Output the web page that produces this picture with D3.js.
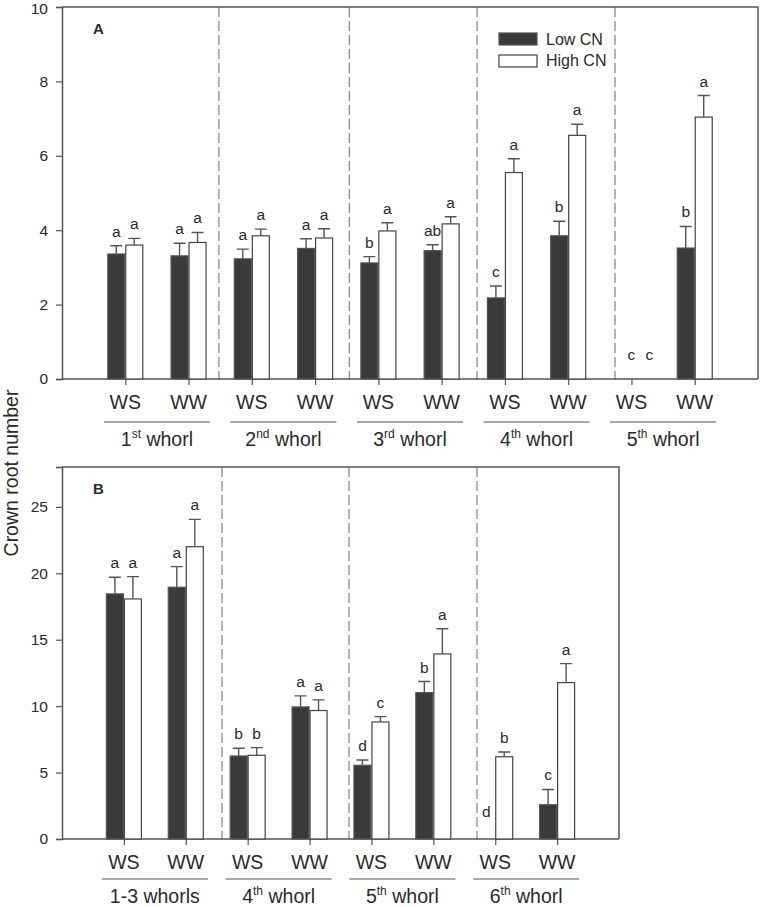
<!DOCTYPE html>
<html>
<head>
<meta charset="utf-8">
<script src="https://cdn.jsdelivr.net/npm/d3@7"></script>
<style>
  html, body { margin: 0; padding: 0; background: #fff; }
  svg { display: block; font-family: "Liberation Sans", Arial, sans-serif; }
</style>
</head>
<body>
<svg id="chart" width="760" height="907"></svg>
<script>
// ---------------- DATA ----------------
const treatments = ["WS", "WW"];
const seriesNames = ["Low CN", "High CN"];

// Panel A
const categoriesA = ["WS","WW","WS","WW","WS","WW","WS","WW","WS","WW"];
const groupNumA = ["1", "2", "3", "4", "5"];
const groupSupA = ["st", "nd", "rd", "th", "th"];
const lowA   = [3.36, 3.31, 3.23, 3.51, 3.12, 3.45, 2.18, 3.85, null, 3.52];
const lowSEA = [0.22, 0.34, 0.26, 0.26, 0.17, 0.16, 0.32, 0.39, null, 0.58];
const highA  = [3.60, 3.67, 3.85, 3.79, 3.98, 4.17, 5.55, 6.55, null, 7.04];
const highSEA= [0.18, 0.27, 0.18, 0.25, 0.22, 0.19, 0.37, 0.30, null, 0.58];
const lettersLowA  = ["a","a","a","a","b","ab","c","b","c","b"];
const lettersHighA = ["a","a","a","a","a","a","a","a","c","a"];
const ticksA = [0, 2, 4, 6, 8, 10];
const separatorsA = [2.48, 4.54, 6.56, 8.74];

// Panel B
const categoriesB = ["WS","WW","WS","WW","WS","WW","WS","WW"];
const groupNumB = ["1-3 whorls", "4", "5", "6"];
const groupSupB = ["", "th", "th", "th"];
const lowB   = [18.45, 18.95, 6.25, 9.94, 5.55, 11.02, null, 2.58];
const lowSEB = [1.25, 1.55, 0.58, 0.83, 0.40, 0.83, null, 1.15];
const highB  = [18.07, 22.00, 6.30, 9.67, 8.81, 13.93, 6.19, 11.77];
const highSEB= [1.68, 2.06, 0.58, 0.80, 0.40, 1.90, 0.36, 1.43];
const lettersLowB  = ["a","a","b","a","d","b","d","c"];
const lettersHighB = ["a","a","b","a","c","a","b","a"];
const ticksB = [0, 5, 10, 15, 20, 25];
const separatorsB = [2.585, 4.637, 6.705];

const yTitle = "Crown root number";

// ---------------- DRAW ----------------
const svg = d3.select("#chart");
const AXIS = "#555";
const DARK = "#3a3a3a";
const TXT = "#2a2a2a";

function panel(cfg) {
  const g = svg.append("g");
  const x = d3.scaleLinear().domain([0, cfg.cats.length + 1]).range([cfg.left, cfg.right]);
  const y = d3.scaleLinear().domain(cfg.ydom).range([cfg.bottom, cfg.top]);
  const bw = 18;

  // separators
  g.selectAll("line.sep").data(cfg.seps).join("line")
    .attr("x1", d => x(d)).attr("x2", d => x(d))
    .attr("y1", cfg.top).attr("y2", cfg.bottom)
    .attr("stroke", "#777").attr("stroke-width", 1.1)
    .attr("stroke-dasharray", "10,4");

  // frame (top and right)
  g.append("path")
    .attr("d", `M${cfg.left},${cfg.top}H${cfg.right}V${cfg.bottom}`)
    .attr("fill", "none").attr("stroke", AXIS).attr("stroke-width", 1.5);

  // left axis
  const ya = g.append("g").attr("transform", `translate(${cfg.left},0)`)
    .call(d3.axisLeft(y).tickValues(cfg.ticks).tickSize(6).tickPadding(8).tickFormat(d3.format("d")));
  ya.select(".domain").attr("stroke", AXIS).attr("stroke-width", 1.5);
  ya.selectAll(".tick line").attr("stroke", AXIS).attr("stroke-width", 1.2);
  ya.selectAll(".tick text").attr("font-size", 15.5).attr("fill", TXT)
    .attr("font-family", "Liberation Sans, Arial, sans-serif")
    .attr("dy", d => y(d) < 12 ? "0.45em" : "0.32em");

  // bottom axis
  const xa = g.append("g").attr("transform", `translate(0,${cfg.bottom})`)
    .call(d3.axisBottom(x).tickValues(d3.range(1, cfg.cats.length + 1)).tickSize(6).tickFormat(""));
  xa.select(".domain").attr("d", `M${cfg.left},0H${cfg.right}`).attr("stroke", AXIS).attr("stroke-width", 1.5);
  xa.selectAll(".tick line").attr("stroke", AXIS).attr("stroke-width", 1.2);

  const idx = d3.range(cfg.cats.length);

  // bars
  const series = [
    {vals: cfg.low, se: cfg.lowSE, let: cfg.lowLet, off: -bw, fill: DARK, stroke: "#555"},
    {vals: cfg.high, se: cfg.highSE, let: cfg.highLet, off: 0, fill: "#fff", stroke: "#444"}
  ];
  series.forEach(s => {
    const has = idx.filter(i => s.vals[i] != null);
    g.selectAll(null).data(has).join("rect")
      .attr("x", i => x(i + 1) + s.off + 0.5)
      .attr("width", bw - 1)
      .attr("y", i => y(s.vals[i]))
      .attr("height", i => y(0) - y(s.vals[i]))
      .attr("fill", s.fill).attr("stroke", s.stroke).attr("stroke-width", 1.2);
    // error bars
    g.selectAll(null).data(has).join("path")
      .attr("d", i => {
        const cx = x(i + 1) + s.off + bw / 2;
        const t = y(s.vals[i] + s.se[i]);
        return `M${cx},${y(s.vals[i])}V${t}M${cx - 6},${t}H${cx + 6}`;
      })
      .attr("fill", "none").attr("stroke", "#555").attr("stroke-width", 1.4);
    // letters
    g.selectAll(null).data(idx).join("text")
      .attr("x", i => x(i + 1) + s.off + bw / 2 + (s.vals[i] == null ? cfg.missDx : 0))
      .attr("y", i => s.vals[i] == null ? cfg.bottom - cfg.missDy : y(s.vals[i] + s.se[i]) - 9)
      .attr("text-anchor", "middle").attr("font-size", 15.5).attr("fill", TXT)
      .text(i => s.let[i]);
  });

  // category labels
  g.selectAll(null).data(idx).join("text")
    .attr("x", i => x(i + 1)).attr("y", cfg.bottom + 30)
    .attr("text-anchor", "middle").attr("font-size", 19.5).attr("fill", TXT)
    .text(i => cfg.cats[i]);

  // group underline and labels
  const groups = d3.range(cfg.gnum.length);
  g.selectAll(null).data(groups).join("line")
    .attr("x1", k => (x(2 * k + 1) + x(2 * k + 2)) / 2 - 53)
    .attr("x2", k => (x(2 * k + 1) + x(2 * k + 2)) / 2 + 53)
    .attr("y1", cfg.bottom + cfg.ulY).attr("y2", cfg.bottom + cfg.ulY)
    .attr("stroke", "#555").attr("stroke-width", 1.2);
  const gt = g.selectAll(null).data(groups).join("text")
    .attr("x", k => (x(2 * k + 1) + x(2 * k + 2)) / 2)
    .attr("y", cfg.bottom + cfg.glY)
    .attr("text-anchor", "middle").attr("font-size", 19.5).attr("fill", TXT);
  gt.each(function(k) {
    const t = d3.select(this);
    t.append("tspan").text(cfg.gnum[k]);
    if (cfg.gsup[k]) {
      t.append("tspan").attr("font-size", 12).attr("dy", -8).text(cfg.gsup[k]);
      t.append("tspan").attr("dy", 8).text(" whorl");
    }
  });

  // panel letter
  g.append("text").attr("x", cfg.left + 31).attr("y", cfg.top + 27)
    .attr("font-size", 15).attr("font-weight", "bold").attr("fill", TXT)
    .text(cfg.label);

  return {x, y, g};
}

const pA = panel({
  left: 62, right: 758, top: 7, bottom: 379, ydom: [0, 10],
  cats: categoriesA, low: lowA, lowSE: lowSEA, high: highA, highSE: highSEA,
  lowLet: lettersLowA, highLet: lettersHighA, ticks: ticksA, seps: separatorsA,
  gnum: groupNumA, gsup: groupSupA, ulY: 43, glY: 67, label: "A", missDx: 9, missDy: 19
});

const pB = panel({
  left: 62, right: 619, top: 467, bottom: 839, ydom: [0, 28],
  cats: categoriesB, low: lowB, lowSE: lowSEB, high: highB, highSE: highSEB,
  lowLet: lettersLowB, highLet: lettersHighB, ticks: ticksB, seps: separatorsB,
  gnum: groupNumB, gsup: groupSupB, ulY: 40, glY: 64, label: "B", missDx: 0, missDy: 22
});

// legend (panel A)
const leg = svg.append("g");
seriesNames.forEach((name, i) => {
  leg.append("rect").attr("x", 499).attr("y", 33 + i * 22).attr("width", 38).attr("height", 12)
    .attr("fill", i === 0 ? DARK : "#fff").attr("stroke", i === 0 ? "#555" : "#444").attr("stroke-width", 1.2);
  leg.append("text").attr("x", 546).attr("y", 45 + i * 21).attr("font-size", 16).attr("fill", TXT).text(name);
});

// y title
svg.append("text")
  .attr("transform", "translate(18,473) rotate(-90)")
  .attr("text-anchor", "middle").attr("font-size", 19.5).attr("fill", TXT)
  .text(yTitle);
</script>
</body>
</html>
